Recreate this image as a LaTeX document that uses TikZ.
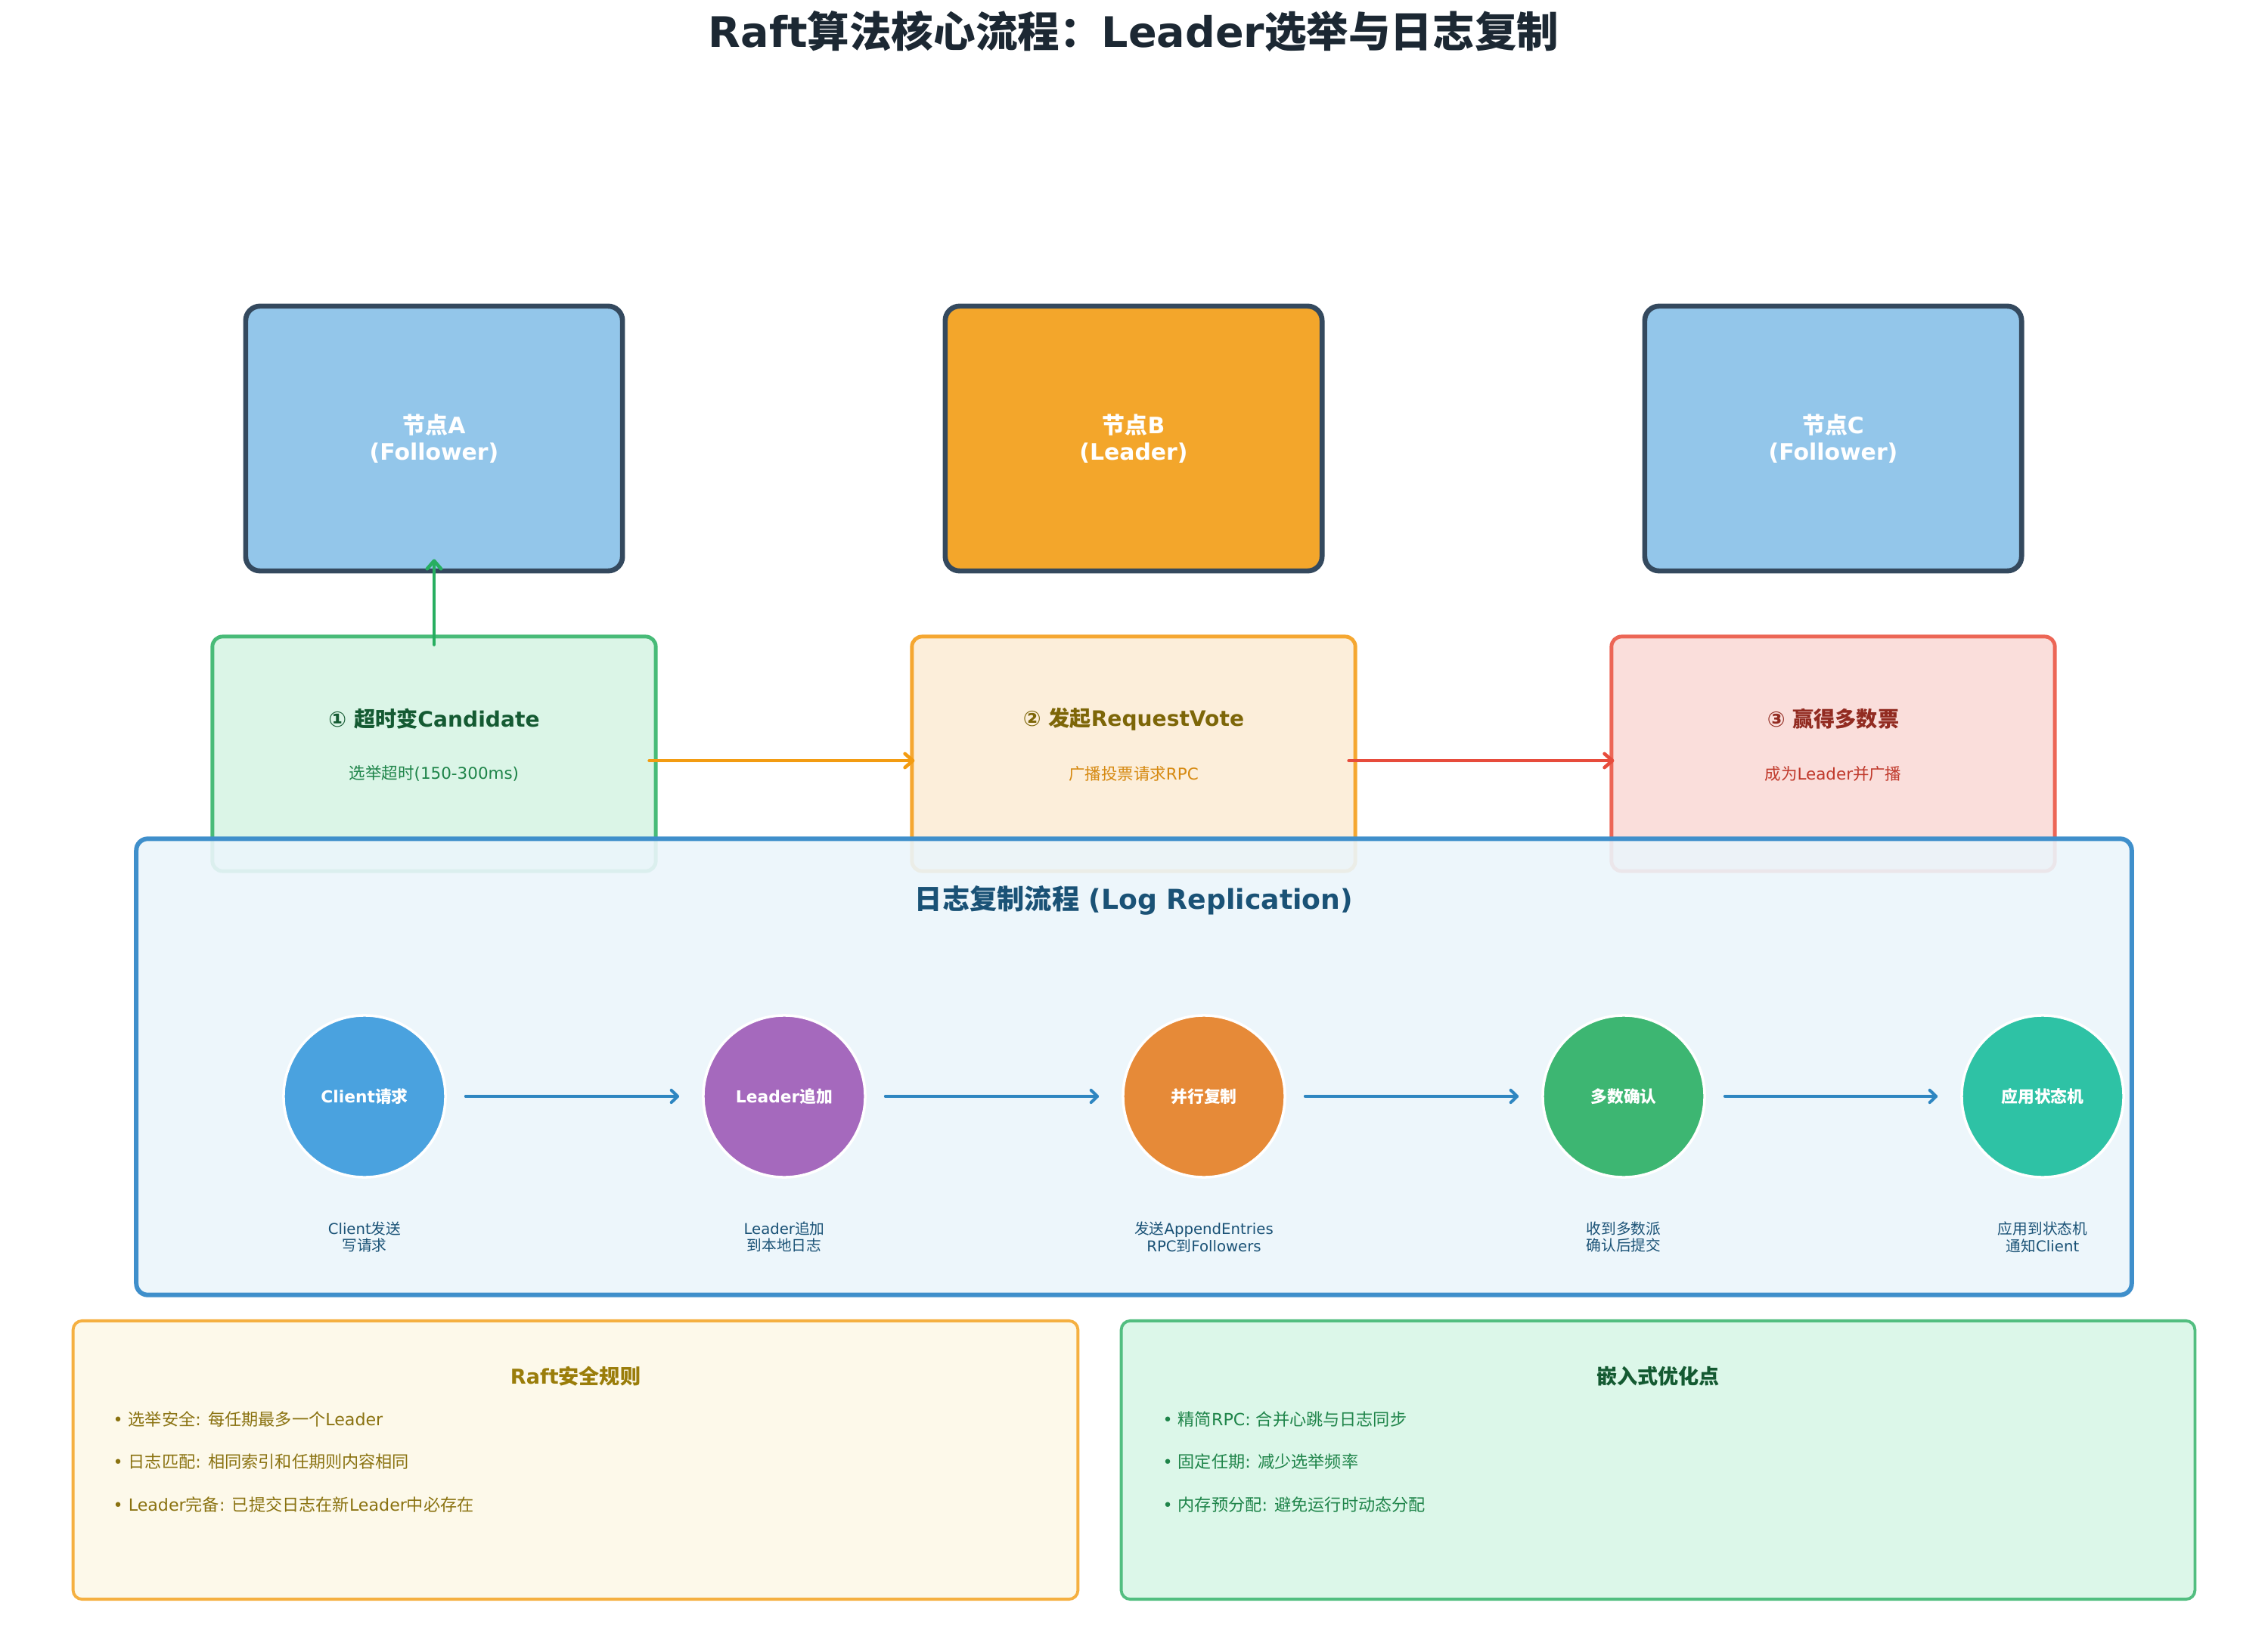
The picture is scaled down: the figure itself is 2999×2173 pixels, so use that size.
\documentclass[tikz,border=0pt]{standalone}
\usepackage{fontspec}
\setmainfont{DejaVu Sans}
\newfontfamily\cjkfont{Noto Sans CJK SC}
\newfontfamily\latinfont{DejaVu Sans}
\usetikzlibrary{arrows.meta}

% Chinese characters switch to the CJK font by themselves
\XeTeXinterchartokenstate=1
\chardef\hanclass=10
\newcount\hancode
\hancode="3000
\loop
  \XeTeXcharclass\hancode=\hanclass
  \advance\hancode by 1
\ifnum\hancode<"3040 \repeat
\hancode="4E00
\loop
  \XeTeXcharclass\hancode=\hanclass
  \advance\hancode by 1
\ifnum\hancode<"A000 \repeat
\hancode="FF00
\loop
  \XeTeXcharclass\hancode=\hanclass
  \advance\hancode by 1
\ifnum\hancode<"FFF0 \repeat
\XeTeXinterchartoks 0 \hanclass = {\cjkfont}
\XeTeXinterchartoks 4095 \hanclass = {\cjkfont}
\XeTeXinterchartoks \hanclass 0 = {\latinfont}
\XeTeXinterchartoks \hanclass 4095 = {\latinfont}

\definecolor{titlecol}{HTML}{1C2833}
\definecolor{nodeedge}{HTML}{34495E}
\definecolor{followerblue}{HTML}{93C6EA}
\definecolor{leaderorange}{HTML}{F3A62B}
\definecolor{greenfill}{HTML}{DBF5E7}
\definecolor{greenedge}{HTML}{48BB78}
\definecolor{greentitle}{HTML}{145A32}
\definecolor{greentext}{HTML}{1E8449}
\definecolor{orangefill}{HTML}{FCEEDA}
\definecolor{orangeedge}{HTML}{F5A731}
\definecolor{orangetitle}{HTML}{7D6608}
\definecolor{orangetext}{HTML}{D68910}
\definecolor{redfill}{HTML}{FADEDB}
\definecolor{rededge}{HTML}{EC6656}
\definecolor{redtitle}{HTML}{922B21}
\definecolor{redtext}{HTML}{C0392B}
\definecolor{logfill}{HTML}{EBF5FB}
\definecolor{logedge}{HTML}{3F8FCB}
\definecolor{logtitle}{HTML}{1A5276}
\definecolor{flowblue}{HTML}{2E86C1}
\definecolor{clientcol}{HTML}{4AA2DF}
\definecolor{appendcol}{HTML}{A569BD}
\definecolor{replicol}{HTML}{E68A38}
\definecolor{commitcol}{HTML}{3DB672}
\definecolor{applycol}{HTML}{2EC2A5}
\definecolor{rulesfill}{HTML}{FDF9EA}
\definecolor{rulesedge}{HTML}{F5B041}
\definecolor{rulestitle}{HTML}{9A7D0A}
\definecolor{rulestext}{HTML}{8A7210}
\definecolor{optfill}{HTML}{DCF7E9}
\definecolor{optedge}{HTML}{52BE80}
\definecolor{arrowgreen}{HTML}{27AE60}
\definecolor{arroworange}{HTML}{F39C12}
\definecolor{arrowred}{HTML}{E74C3C}

\tikzset{
  maintitle/.style={font=\bfseries\fontsize{15.8}{18}\selectfont, text=titlecol},
  nodebox/.style={draw=nodeedge, line width=1.9pt, rounded corners=5.4pt, minimum width=4.98cm, minimum height=3.5cm, text=white, align=center, font=\bfseries\fontsize{8.5}{10}\selectfont},
  stepbox/.style={line width=1.4pt, rounded corners=3.8pt, minimum width=5.86cm, minimum height=3.1cm},
  steptitle/.style={font=\bfseries\fontsize{8}{9.5}\selectfont},
  stepnote/.style={font=\fontsize{6.1}{7}\selectfont},
  steparrow/.style={line width=1.3pt, line cap=round, -{Straight Barb[round, length=3pt, width=5.2pt]}},
  logbox/.style={draw=logedge, fill=logfill, fill opacity=0.9, line width=1.7pt, rounded corners=4.3pt, minimum width=26.37cm, minimum height=6.03cm},
  logtitle/.style={font=\bfseries\fontsize{10.3}{12}\selectfont, text=logtitle},
  flowstep/.style={circle, draw=white, line width=1pt, minimum size=2.14cm, inner sep=0pt, text=white, font=\bfseries\fontsize{6.2}{7.5}\selectfont},
  flownote/.style={align=center, text=logtitle, font=\fontsize{5.6}{6.5}\selectfont},
  flowarrow/.style={draw=flowblue, line width=1.15pt, line cap=round, shorten <=0.25cm, shorten >=0.3cm, -{Straight Barb[round, length=2.4pt, width=4.6pt]}},
  infobox/.style={line width=1.1pt, rounded corners=3.4pt, minimum height=3.68cm},
  infotitle/.style={font=\bfseries\fontsize{7.7}{9}\selectfont},
  infoitem/.style={anchor=west, inner sep=0pt, font=\fontsize{6.3}{8}\selectfont}
}

\begin{document}
\begin{tikzpicture}[x=0.01cm, y=-0.01cm]
\useasboundingbox (0,0) rectangle (2999,2173);

\node[maintitle] (title) at (1499,42) {Raft算法核心流程：Leader选举与日志复制};

% cluster nodes
\node[nodebox, fill=followerblue] (nodeA) at (574,580) {节点A\\(Follower)};
\node[nodebox, fill=leaderorange] (nodeB) at (1499,580) {节点B\\(Leader)};
\node[nodebox, fill=followerblue] (nodeC) at (2424,580) {节点C\\(Follower)};

% election steps
\node[stepbox, draw=greenedge, fill=greenfill] (stepA) at (574,997) {};
\node[steptitle, text=greentitle] (stepAtitle) at (574,951) {① 超时变Candidate};
\node[stepnote, text=greentext] (stepAnote) at (574,1023) {选举超时(150-300ms)};

\node[stepbox, draw=orangeedge, fill=orangefill] (stepB) at (1499,997) {};
\node[steptitle, text=orangetitle] (stepBtitle) at (1499,951) {② 发起RequestVote};
\node[stepnote, text=orangetext] (stepBnote) at (1499,1023) {广播投票请求RPC};

\node[stepbox, draw=rededge, fill=redfill] (stepC) at (2424,997) {};
\node[steptitle, text=redtitle] (stepCtitle) at (2424,951) {③ 赢得多数票};
\node[stepnote, text=redtext] (stepCnote) at (2424,1023) {成为Leader并广播};

\draw[steparrow, draw=arrowgreen] ([yshift=-0.13cm]stepA.north) -- ([yshift=0.19cm]nodeA.south);
\draw[steparrow, draw=arroworange] ([shift={(-0.11cm,-0.09cm)}]stepA.east) -- ([shift={(0.06cm,-0.09cm)}]stepB.west);
\draw[steparrow, draw=arrowred] ([shift={(-0.11cm,-0.09cm)}]stepB.east) -- ([shift={(0.06cm,-0.09cm)}]stepC.west);

% log replication
\node[logbox] (logbox) at (1499.5,1411) {};
\node[logtitle] (logheading) at (1499.5,1191) {日志复制流程 (Log Replication)};

\node[flowstep, fill=clientcol] (client) at (482,1450) {Client请求};
\node[flowstep, fill=appendcol] (append) at (1037,1450) {Leader追加};
\node[flowstep, fill=replicol] (replicate) at (1592,1450) {并行复制};
\node[flowstep, fill=commitcol] (commit) at (2147,1450) {多数确认};
\node[flowstep, fill=applycol] (apply) at (2701,1450) {应用状态机};

\node[flownote] (clientnote) at (482,1636) {Client发送\\写请求};
\node[flownote] (appendnote) at (1037,1636) {Leader追加\\到本地日志};
\node[flownote] (replicatenote) at (1592,1636) {发送AppendEntries\\RPC到Followers};
\node[flownote] (commitnote) at (2147,1636) {收到多数派\\确认后提交};
\node[flownote] (applynote) at (2701,1636) {应用到状态机\\通知Client};

\draw[flowarrow] (client) -- (append);
\draw[flowarrow] (append) -- (replicate);
\draw[flowarrow] (replicate) -- (commit);
\draw[flowarrow] (commit) -- (apply);

% safety rules and embedded notes
\node[infobox, draw=rulesedge, fill=rulesfill, minimum width=13.28cm] (rules) at (761,1931) {};
\node[infotitle, text=rulestitle] (rulestitle) at (761,1820) {Raft安全规则};
\node[infoitem, text=rulestext] (ruleA) at (149,1877) {• 选举安全: 每任期最多一个Leader};
\node[infoitem, text=rulestext] (ruleB) at (149,1933) {• 日志匹配: 相同索引和任期则内容相同};
\node[infoitem, text=rulestext] (ruleC) at (149,1990) {• Leader完备: 已提交日志在新Leader中必存在};

\node[infobox, draw=optedge, fill=optfill, minimum width=14.19cm] (embedded) at (2192.5,1931) {};
\node[infotitle, text=greentitle] (embeddedtitle) at (2192.5,1820) {嵌入式优化点};
\node[infoitem, text=greentext] (optA) at (1537,1877) {• 精简RPC: 合并心跳与日志同步};
\node[infoitem, text=greentext] (optB) at (1537,1933) {• 固定任期: 减少选举频率};
\node[infoitem, text=greentext] (optC) at (1537,1990) {• 内存预分配: 避免运行时动态分配};
\end{tikzpicture}
\end{document}
